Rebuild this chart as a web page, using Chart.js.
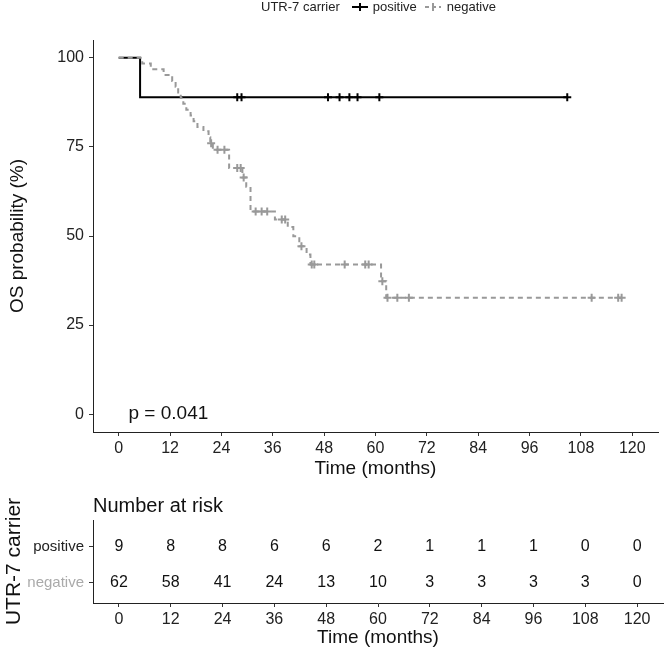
<!DOCTYPE html>
<html>
<head>
<meta charset="utf-8">
<script src="https://cdn.jsdelivr.net/npm/chart.js@4.4.1/dist/chart.umd.min.js"></script>
<style>
  body { margin: 0; background: #fff; font-family: "Liberation Sans", Arial, sans-serif; }
  #wrap { position: relative; width: 664px; height: 651px; overflow: hidden; }
  #main { position: absolute; left: 0; top: 0; }
  #risk { position: absolute; left: 0; top: 480px; }
  #legend { position: absolute; left: 93px; width: 571px; top: -1px; text-align: center;
            font-size: 13px; line-height: 15px; color: #222; white-space: nowrap; }
  #legend svg { vertical-align: -1px; }
  #riskTitle { position: absolute; left: 93px; top: 495px; font-size: 20px; line-height: 20px; color: #111; }
</style>
</head>
<body>
<div id="wrap">
  <canvas id="main" width="664" height="480"></canvas>
  <canvas id="risk" width="664" height="171"></canvas>
  <div id="legend">UTR-7 carrier<svg width="16" height="10" style="margin:0 5px 0 12px"><line x1="0" y1="5" x2="16" y2="5" stroke="#000" stroke-width="2"/><line x1="8" y1="1" x2="8" y2="9" stroke="#000" stroke-width="2"/></svg>positive<svg width="16" height="10" style="margin:0 6px 0 8px"><line x1="0" y1="5" x2="16" y2="5" stroke="#999" stroke-width="2" stroke-dasharray="4 3"/><line x1="8" y1="1" x2="8" y2="9" stroke="#999" stroke-width="2"/></svg>negative</div>
  <div id="riskTitle">Number at risk</div>
</div>
<script>
const xTicks = [0, 12, 24, 36, 48, 60, 72, 84, 96, 108, 120];
const yTicks = [0, 25, 50, 75, 100];

// positive carriers
const posTime = [0, 5, 104.8];
const posSurv = [100, 88.9, 88.9];
const posCensTime = [27.7, 28.7, 48.9, 51.6, 53.9, 55.8, 60.9, 104.8];
const posCensSurv = [88.9, 88.9, 88.9, 88.9, 88.9, 88.9, 88.9, 88.9];

// negative carriers
const negTime = [0, 5.5, 7.5, 10.5, 12.5, 13.3, 13.9, 14.5, 15.1, 15.8, 16.8, 17.5, 18.4, 19.8, 21.0, 21.4, 22.0,
                 25.8, 28.9, 29.8, 30.8, 36.5, 39.5, 40.8, 42.2, 43.9, 44.8, 61.3, 62.5, 117.5];
const negSurv = [100, 98.4, 96.8, 95.2, 93.5, 91.9, 90.3, 88.7, 87.1, 85.4, 83.8, 82.2, 80.6, 79.4, 77.7, 76.0, 74.2,
                 69.1, 66.4, 63.8, 56.9, 54.6, 52.5, 49.9, 47.1, 44.8, 42.0, 37.3, 32.7, 32.7];
const negCensTime = [21.6, 23.1, 24.7, 27.7, 28.5, 29.2, 32.0, 33.4, 34.7, 38.1, 38.9, 42.7, 45.1, 45.7, 52.8,
                     57.6, 58.4, 61.6, 62.8, 65.1, 67.8, 110.5, 116.7, 117.5];
const negCensSurv = [76.0, 74.2, 74.2, 69.1, 69.1, 66.4, 56.9, 56.9, 56.9, 54.6, 54.6, 47.1, 42.0, 42.0, 42.0,
                     42.0, 42.0, 37.3, 32.7, 32.7, 32.7, 32.7, 32.7, 32.7];

const pText = 'p = 0.041';
const pAt = [2.3, 0];

// risk table
const riskGroups = ['negative', 'positive'];
const posRisk = [9, 8, 8, 6, 6, 2, 1, 1, 1, 0, 0];
const negRisk = [62, 58, 41, 24, 13, 10, 3, 3, 3, 3, 0];

const FONT = '"Liberation Sans", Arial, sans-serif';
const GREY = '#999999';
const pts = (xs, ys) => xs.map((x, i) => ({ x, y: ys[i] }));

Chart.defaults.font.family = FONT;
Chart.defaults.animation = false;

const pvaluePlugin = {
  id: 'pvalue',
  afterDatasetsDraw(chart) {
    const { ctx, scales: { x, y } } = chart;
    ctx.save();
    ctx.font = '19px ' + FONT;
    ctx.fillStyle = '#111';
    ctx.textBaseline = 'middle';
    ctx.textAlign = 'left';
    ctx.fillText(pText, x.getPixelForValue(pAt[0]), y.getPixelForValue(pAt[1]));
    ctx.restore();
  }
};

const xScale = (titleBottom) => ({
  type: 'linear', min: -6, max: 126,
  afterBuildTicks: (s) => { s.ticks = xTicks.map(v => ({ value: v })); },
  afterFit: (s) => { s.height = 48; },
  grid: { drawOnChartArea: false, drawTicks: true, tickLength: 4, color: '#333' },
  border: { display: true, color: '#222', width: 1 },
  ticks: { color: '#222', font: { size: 16 }, padding: 3, maxRotation: 0 },
  title: { display: true, text: 'Time (months)', color: '#111', font: { size: 19 }, padding: { top: 0, bottom: titleBottom } }
});

new Chart(document.getElementById('main'), {
  type: 'line',
  data: {
    datasets: [
      { data: pts(negTime, negSurv), stepped: true, borderColor: GREY, borderWidth: 2, borderDash: [5, 4], pointRadius: 0, fill: false },
      { type: 'scatter', data: pts(negCensTime, negCensSurv), pointStyle: 'cross', pointRadius: 4, borderColor: GREY, borderWidth: 2, showLine: false },
      { data: pts(posTime, posSurv), stepped: true, borderColor: '#000', borderWidth: 2, pointRadius: 0, fill: false },
      { type: 'scatter', data: pts(posCensTime, posCensSurv), pointStyle: 'cross', pointRadius: 4, borderColor: '#000', borderWidth: 2, showLine: false }
    ]
  },
  options: {
    responsive: false,
    devicePixelRatio: 1,
    layout: { padding: { top: 40, right: 1, left: 0, bottom: 0 } },
    plugins: { legend: { display: false }, tooltip: { enabled: false } },
    scales: {
      x: xScale(0),
      y: {
        type: 'linear', min: -5, max: 105,
        afterBuildTicks: (s) => { s.ticks = yTicks.map(v => ({ value: v })); },
        afterFit: (s) => { s.width = 93; },
        grid: { drawOnChartArea: false, drawTicks: true, tickLength: 4, color: '#333' },
        border: { display: true, color: '#222', width: 1 },
        ticks: { color: '#222', font: { size: 16 }, padding: 5 },
        title: { display: true, text: 'OS probability (%)', color: '#111', font: { size: 19 }, padding: { top: 6, bottom: 0 } }
      }
    }
  },
  plugins: [pvaluePlugin]
});

const riskPlugin = {
  id: 'riskNumbers',
  afterDatasetsDraw(chart) {
    const { ctx, scales: { x, y } } = chart;
    ctx.save();
    ctx.font = '16px ' + FONT;
    ctx.fillStyle = '#111';
    ctx.textAlign = 'center';
    ctx.textBaseline = 'middle';
    xTicks.forEach((t, i) => {
      ctx.fillText(String(posRisk[i]), x.getPixelForValue(t), y.getPixelForValue(2));
      ctx.fillText(String(negRisk[i]), x.getPixelForValue(t), y.getPixelForValue(1));
    });
    ctx.restore();
  }
};

new Chart(document.getElementById('risk'), {
  type: 'scatter',
  data: { datasets: [{ data: [], showLine: false }] },
  options: {
    responsive: false,
    devicePixelRatio: 1,
    layout: { padding: { top: 40, right: 1, left: 0, bottom: 0 } },
    plugins: { legend: { display: false }, tooltip: { enabled: false } },
    scales: {
      x: xScale(2),
      y: {
        type: 'linear', min: 0.44, max: 2.73,
        afterBuildTicks: (s) => { s.ticks = [{ value: 1 }, { value: 2 }]; },
        afterFit: (s) => { s.width = 93; },
        grid: { drawOnChartArea: false, drawTicks: true, tickLength: 4, color: '#333' },
        border: { display: true, color: '#222', width: 1 },
        ticks: {
          font: { size: 15 }, padding: 5,
          color: (c) => c.tick && c.tick.value === 1 ? '#aaaaaa' : '#222',
          callback: (v) => riskGroups[v - 1]
        },
        title: { display: true, text: 'UTR-7 carrier', color: '#111', font: { size: 21 }, padding: { top: 2, bottom: 0 } }
      }
    }
  },
  plugins: [riskPlugin]
});
</script>
</body>
</html>
